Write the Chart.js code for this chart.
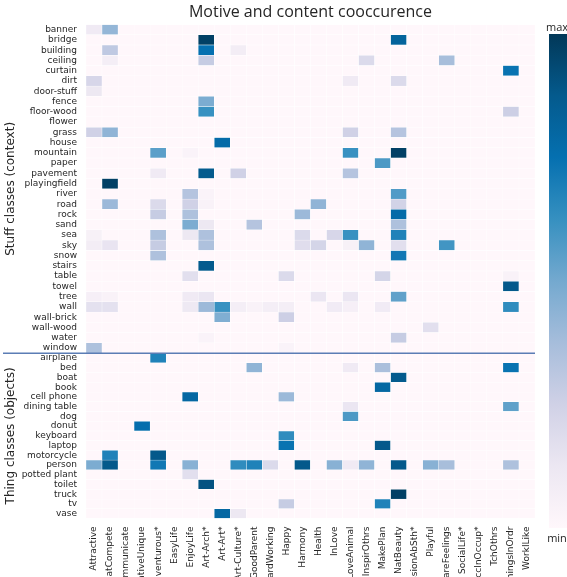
<!DOCTYPE html>
<html><head><meta charset="utf-8">
<script src="https://cdn.jsdelivr.net/npm/chart.js@4/dist/chart.umd.min.js"></script>
<style>html,body{margin:0;padding:0;background:#fff;overflow:hidden}</style>
</head><body>
<canvas id="c" width="567" height="577" style="display:block;width:567px;height:577px"></canvas>
<script>
const motives = ['Attractive','BeatCompete','Communicate','CreativeUnique','Adventurous*','EasyLife','EnjoyLife','Art-Arch*','Art-Art*','Art-Culture*','GoodParent','HardWorking','Happy','Harmony','Health','InLove','LoveAnimal','InspirOthrs','MakePlan','NatBeauty','PassionAbSth*','Playful','ShareFeelings','SocialLife*','SuccInOccup*','TchOthrs','ThingsInOrdr','WorkILike'];
const stuffRows = ['banner','bridge','building','ceiling','curtain','dirt','door-stuff','fence','floor-wood','flower','grass','house','mountain','paper','pavement','playingfield','river','road','rock','sand','sea','sky','snow','stairs','table','towel','tree','wall','wall-brick','wall-wood','water','window'];
const thingRows = ['airplane','bed','boat','book','cell phone','dining table','dog','donut','keyboard','laptop','motorcycle','person','potted plant','toilet','truck','tv','vase'];
// values on colour scale 0 (min) .. 1 (max), one array of 28 per row
const stuffValues = [
 [.10,.42,0,0,0,0,0, 0,0,0,0,0,0,0, 0,0,0,0,0,0,0, 0,0,0,0,0,0,0],
 [0,0,0,0,0,0,0, .97,0,0,0,0,0,0, 0,0,0,0,0,.82,0, 0,0,0,0,0,0,0],
 [0,.30,0,0,0,0,0, .75,0,.08,0,0,0,0, 0,0,0,0,0,0,0, 0,0,0,0,0,0,0],
 [0,.07,0,0,0,0,0, .28,0,0,0,0,0,0, 0,0,0,.20,0,0,0, 0,.37,0,0,0,0,0],
 [0,0,0,0,0,0,0, 0,0,0,0,0,0,0, 0,0,0,0,0,0,0, 0,0,0,0,0,.74,0],
 [.22,0,0,0,0,0,0, 0,0,0,0,0,0,0, 0,0,.10,0,0,.20,0, 0,0,0,0,0,0,0],
 [.12,0,0,0,0,0,0, 0,0,0,0,0,0,0, 0,0,0,0,0,0,0, 0,0,0,0,0,0,0],
 [0,0,0,0,0,0,0, .48,0,0,0,0,0,0, 0,0,0,0,0,0,0, 0,0,0,0,0,0,0],
 [0,0,0,0,0,0,0, .62,0,0,0,0,0,0, 0,0,0,0,0,0,0, 0,0,0,0,0,.26,0],
 [0,0,0,0,0,0,0, 0,0,0,0,0,0,0, 0,0,0,0,0,0,0, 0,0,0,0,0,0,0],
 [.25,.43,0,0,0,0,0, 0,0,0,0,0,0,0, 0,0,.25,0,0,.33,0, 0,0,0,0,0,0,0],
 [0,0,0,0,0,0,0, 0,.78,0,0,0,0,0, 0,0,0,0,0,0,0, 0,0,0,0,0,0,0],
 [0,0,0,0,.55,0,.03, 0,0,0,0,0,0,0, 0,0,.62,0,0,.97,0, 0,0,0,0,0,0,0],
 [0,0,0,0,0,0,0, 0,0,0,0,0,0,0, 0,0,0,0,.58,0,0, 0,0,0,0,0,0,0],
 [0,0,0,0,.10,0,0, .87,0,.25,0,0,0,0, 0,0,.33,0,0,0,0, 0,0,0,0,0,0,0],
 [0,.97,0,0,0,0,0, 0,0,0,0,0,0,0, 0,0,0,0,0,0,0, 0,0,0,0,0,0,0],
 [0,0,0,0,0,0,.33, .03,0,0,0,0,0,0, 0,0,0,0,0,.57,0, 0,0,0,0,0,0,0],
 [0,.40,0,0,.20,0,.25, .04,0,0,0,0,0,0, .43,0,0,0,0,.24,0, 0,0,0,0,0,0,0],
 [0,0,0,0,.28,0,.35, 0,0,0,0,0,0,.40, 0,0,0,0,0,.78,0, 0,0,0,0,0,0,0],
 [0,0,0,0,0,0,.48, .12,0,0,.33,0,0,0, 0,0,0,0,0,.35,0, 0,0,0,0,0,0,0],
 [.05,0,0,0,.35,0,.12, .35,0,0,0,0,0,.20, 0,.22,.62,0,0,.68,0, 0,0,0,0,0,0,0],
 [.08,.14,0,0,.28,0,0, .35,0,0,0,0,0,.18, .23,0,.05,.43,0,.17,0, 0,.60,0,0,0,0,0],
 [0,0,0,0,.35,0,0, 0,0,0,0,0,0,0, 0,0,0,0,0,.72,0, 0,0,0,0,0,0,0],
 [0,0,0,0,0,0,0, .87,0,0,0,0,0,0, 0,0,0,0,0,0,0, 0,0,0,0,0,0,0],
 [0,0,0,0,0,0,.17, 0,0,0,0,0,.20,0, 0,0,0,0,.23,0,0, 0,0,0,0,0,.04,0],
 [0,0,0,0,0,0,0, 0,0,0,0,0,0,0, 0,0,0,0,0,0,0, 0,0,0,0,0,.88,0],
 [.06,.04,0,0,0,0,.10, .13,0,0,0,0,0,0, .13,0,.13,0,0,.54,0, 0,0,0,0,0,0,0],
 [.16,.16,0,0,0,0,.11, .40,.62,.07,.04,.07,.07,0, 0,.09,.06,0,.09,0,0, 0,0,0,0,0,.64,0],
 [0,0,0,0,0,0,0, 0,.47,0,0,0,.26,0, 0,0,0,0,0,0,0, 0,0,0,0,0,0,0],
 [0,0,0,0,0,0,0, 0,0,0,0,0,0,0, 0,0,0,0,0,0,0, .17,0,0,0,0,0,0],
 [0,0,0,0,0,0,0, .03,0,0,0,0,0,0, 0,0,0,0,0,.28,0, 0,0,0,0,0,0,0],
 [.35,0,0,0,0,0,0, 0,0,0,0,0,.03,0, 0,0,0,0,0,0,0, 0,0,0,0,0,0,0]
];
const thingValues = [
 [0,0,0,0,.68,0,0, 0,0,0,0,0,0,0, 0,0,0,0,0,0,0, 0,0,0,0,0,0,0],
 [0,0,0,0,0,0,0, 0,0,0,.43,0,0,0, 0,0,.10,0,.36,0,0, 0,0,0,0,0,.74,0],
 [0,0,0,0,0,0,0, 0,0,0,0,0,0,0, 0,0,0,0,0,.87,0, 0,0,0,0,0,0,0],
 [0,0,0,0,0,0,0, 0,0,0,0,0,0,0, 0,0,0,0,.80,0,0, 0,0,0,0,0,0,0],
 [0,0,0,0,0,0,.80, 0,0,0,0,0,.40,0, 0,0,0,0,0,0,0, 0,0,0,0,0,0,0],
 [0,0,0,0,0,0,0, 0,0,0,0,0,0,0, 0,0,.13,0,0,0,0, 0,0,0,0,0,.54,0],
 [0,0,0,0,0,0,0, 0,0,0,0,0,0,0, 0,0,.58,0,0,0,0, 0,0,0,0,0,0,0],
 [0,0,0,.76,0,0,0, 0,0,0,0,0,0,0, 0,0,0,0,0,0,0, 0,0,0,0,0,0,0],
 [0,0,0,0,0,0,0, 0,0,0,0,0,.64,0, 0,0,0,0,0,0,0, 0,0,0,0,0,0,0],
 [0,0,0,0,0,0,0, 0,0,0,0,0,.74,0, 0,0,0,0,.88,0,0, 0,0,0,0,0,0,0],
 [0,.68,0,0,.88,0,0, 0,0,0,0,0,0,0, 0,0,0,0,0,0,0, 0,0,0,0,0,0,0],
 [.48,.88,0,0,.72,0,.45, 0,0,.64,.68,.20,0,.88, 0,.45,.10,.43,0,.88,0, .45,.37,0,0,0,.35,0],
 [0,0,0,0,0,0,.17, 0,0,0,0,0,0,0, 0,0,0,0,0,0,0, 0,0,0,0,0,0,0],
 [0,0,0,0,0,0,0, .90,0,0,0,0,0,0, 0,0,0,0,0,0,0, 0,0,0,0,0,0,0],
 [0,0,0,0,0,0,0, 0,0,0,0,0,0,0, 0,0,0,0,0,.97,0, 0,0,0,0,0,0,0],
 [0,0,0,0,0,0,0, 0,0,0,0,0,.28,0, 0,0,0,0,.68,0,0, 0,0,0,0,0,0,0],
 [0,0,0,0,0,0,0, 0,.80,.12,0,0,0,0, 0,0,0,0,0,0,0, 0,0,0,0,0,0,0]
];

const PUBU = ['#fff7fb','#ece7f2','#d0d1e6','#a6bddb','#74a9cf','#3690c0','#0570b0','#045a8d','#023858'];
function hex(h){return [1,3,5].map(i=>parseInt(h.substr(i,2),16));}
function cmap(v){
  const t = Math.max(0,Math.min(1,v))*(PUBU.length-1);
  const i = Math.min(PUBU.length-2, Math.floor(t)), f = t - i;
  const a = hex(PUBU[i]), b = hex(PUBU[i+1]);
  return 'rgb(' + a.map((c,k)=>Math.round(c+(b[k]-c)*f)).join(',') + ')';
}
function cells(rows, values){
  const pts = [], colors = [];
  rows.forEach((r,i)=>values[i].forEach((v,j)=>{ pts.push({y:r, x:[j, j+1]}); colors.push(cmap(v)); }));
  return {pts, colors};
}
const S = cells(stuffRows, stuffValues), T = cells(thingRows, thingValues);
const TXT = '#262626';
const tickFont = {family:'DejaVu Sans', size:9};

const extras = {
  id:'extras',
  afterDraw(chart){
    const ctx = chart.ctx, yS = chart.scales.yS, ca = chart.chartArea;
    ctx.save();
    ctx.strokeStyle = '#5b7db5'; ctx.lineWidth = 1.5;
    ctx.beginPath(); ctx.moveTo(3, yS.bottom); ctx.lineTo(ca.right, yS.bottom); ctx.stroke();
    const x0 = 549, x1 = 567, y0 = 34, y1 = 528;
    const g = ctx.createLinearGradient(0, y0, 0, y1);
    PUBU.slice().reverse().forEach((c,i)=>g.addColorStop(i/(PUBU.length-1), c));
    ctx.fillStyle = g; ctx.fillRect(x0, y0, x1-x0, y1-y0);
    ctx.fillStyle = TXT; ctx.font = '11px "Open Sans"'; ctx.textAlign = 'center'; ctx.textBaseline = 'middle';
    ctx.fillText('max', 557, 28); ctx.fillText('min', 557, 539);
    ctx.restore();
  }
};

const dsBase = {type:'bar', borderColor:'#ffffff', borderWidth:0.5, borderSkipped:false, categoryPercentage:1, barPercentage:1, grouped:false, xAxisID:'x'};
new Chart(document.getElementById('c'), {
  type:'bar',
  data:{datasets:[
    Object.assign({}, dsBase, {data:S.pts, backgroundColor:S.colors, yAxisID:'yS'}),
    Object.assign({}, dsBase, {data:T.pts, backgroundColor:T.colors, yAxisID:'yT'})
  ]},
  options:{
    indexAxis:'y', responsive:false, animation:false, devicePixelRatio:1,
    layout:{padding:{top:0, right:32, bottom:0, left:0}},
    plugins:{
      legend:{display:false}, tooltip:{enabled:false},
      title:{display:true, text:'Motive and content cooccurence', fullSize:false, color:TXT,
             font:{family:'Open Sans', size:16, weight:'normal'}, padding:{top:3, bottom:2.3}}
    },
    scales:{
      x:{type:'linear', min:0, max:motives.length, position:'bottom',
         grid:{display:false, drawTicks:false}, border:{display:false},
         afterBuildTicks:s=>{ s.ticks = motives.map((m,i)=>({value:i+0.5})); },
         afterFit:s=>{ s.height = 58.5; },
         ticks:{autoSkip:false, minRotation:90, maxRotation:90, padding:8, font:tickFont, color:TXT,
                callback:v=>motives[Math.floor(v)]}},
      yT:{type:'category', labels:thingRows, position:'left', stack:'rows', stackWeight:165, offset:true,
          grid:{display:false, drawTicks:false}, border:{display:false},
          afterFit:s=>{ s.width = 86; },
          ticks:{autoSkip:false, padding:9, font:tickFont, color:TXT},
          title:{display:true, text:'Thing classes (objects)', color:TXT, font:{family:'DejaVu Sans', size:12}, padding:{top:4, bottom:0}}},
      yS:{type:'category', labels:stuffRows, position:'left', stack:'rows', stackWeight:328, offset:true,
          grid:{display:false, drawTicks:false}, border:{display:false},
          afterFit:s=>{ s.width = 86; },
          ticks:{autoSkip:false, padding:9, font:tickFont, color:TXT},
          title:{display:true, text:'Stuff classes (context)', color:TXT, font:{family:'DejaVu Sans', size:12}, padding:{top:4, bottom:0}}}
    }
  },
  plugins:[extras]
});
</script>
</body></html>
